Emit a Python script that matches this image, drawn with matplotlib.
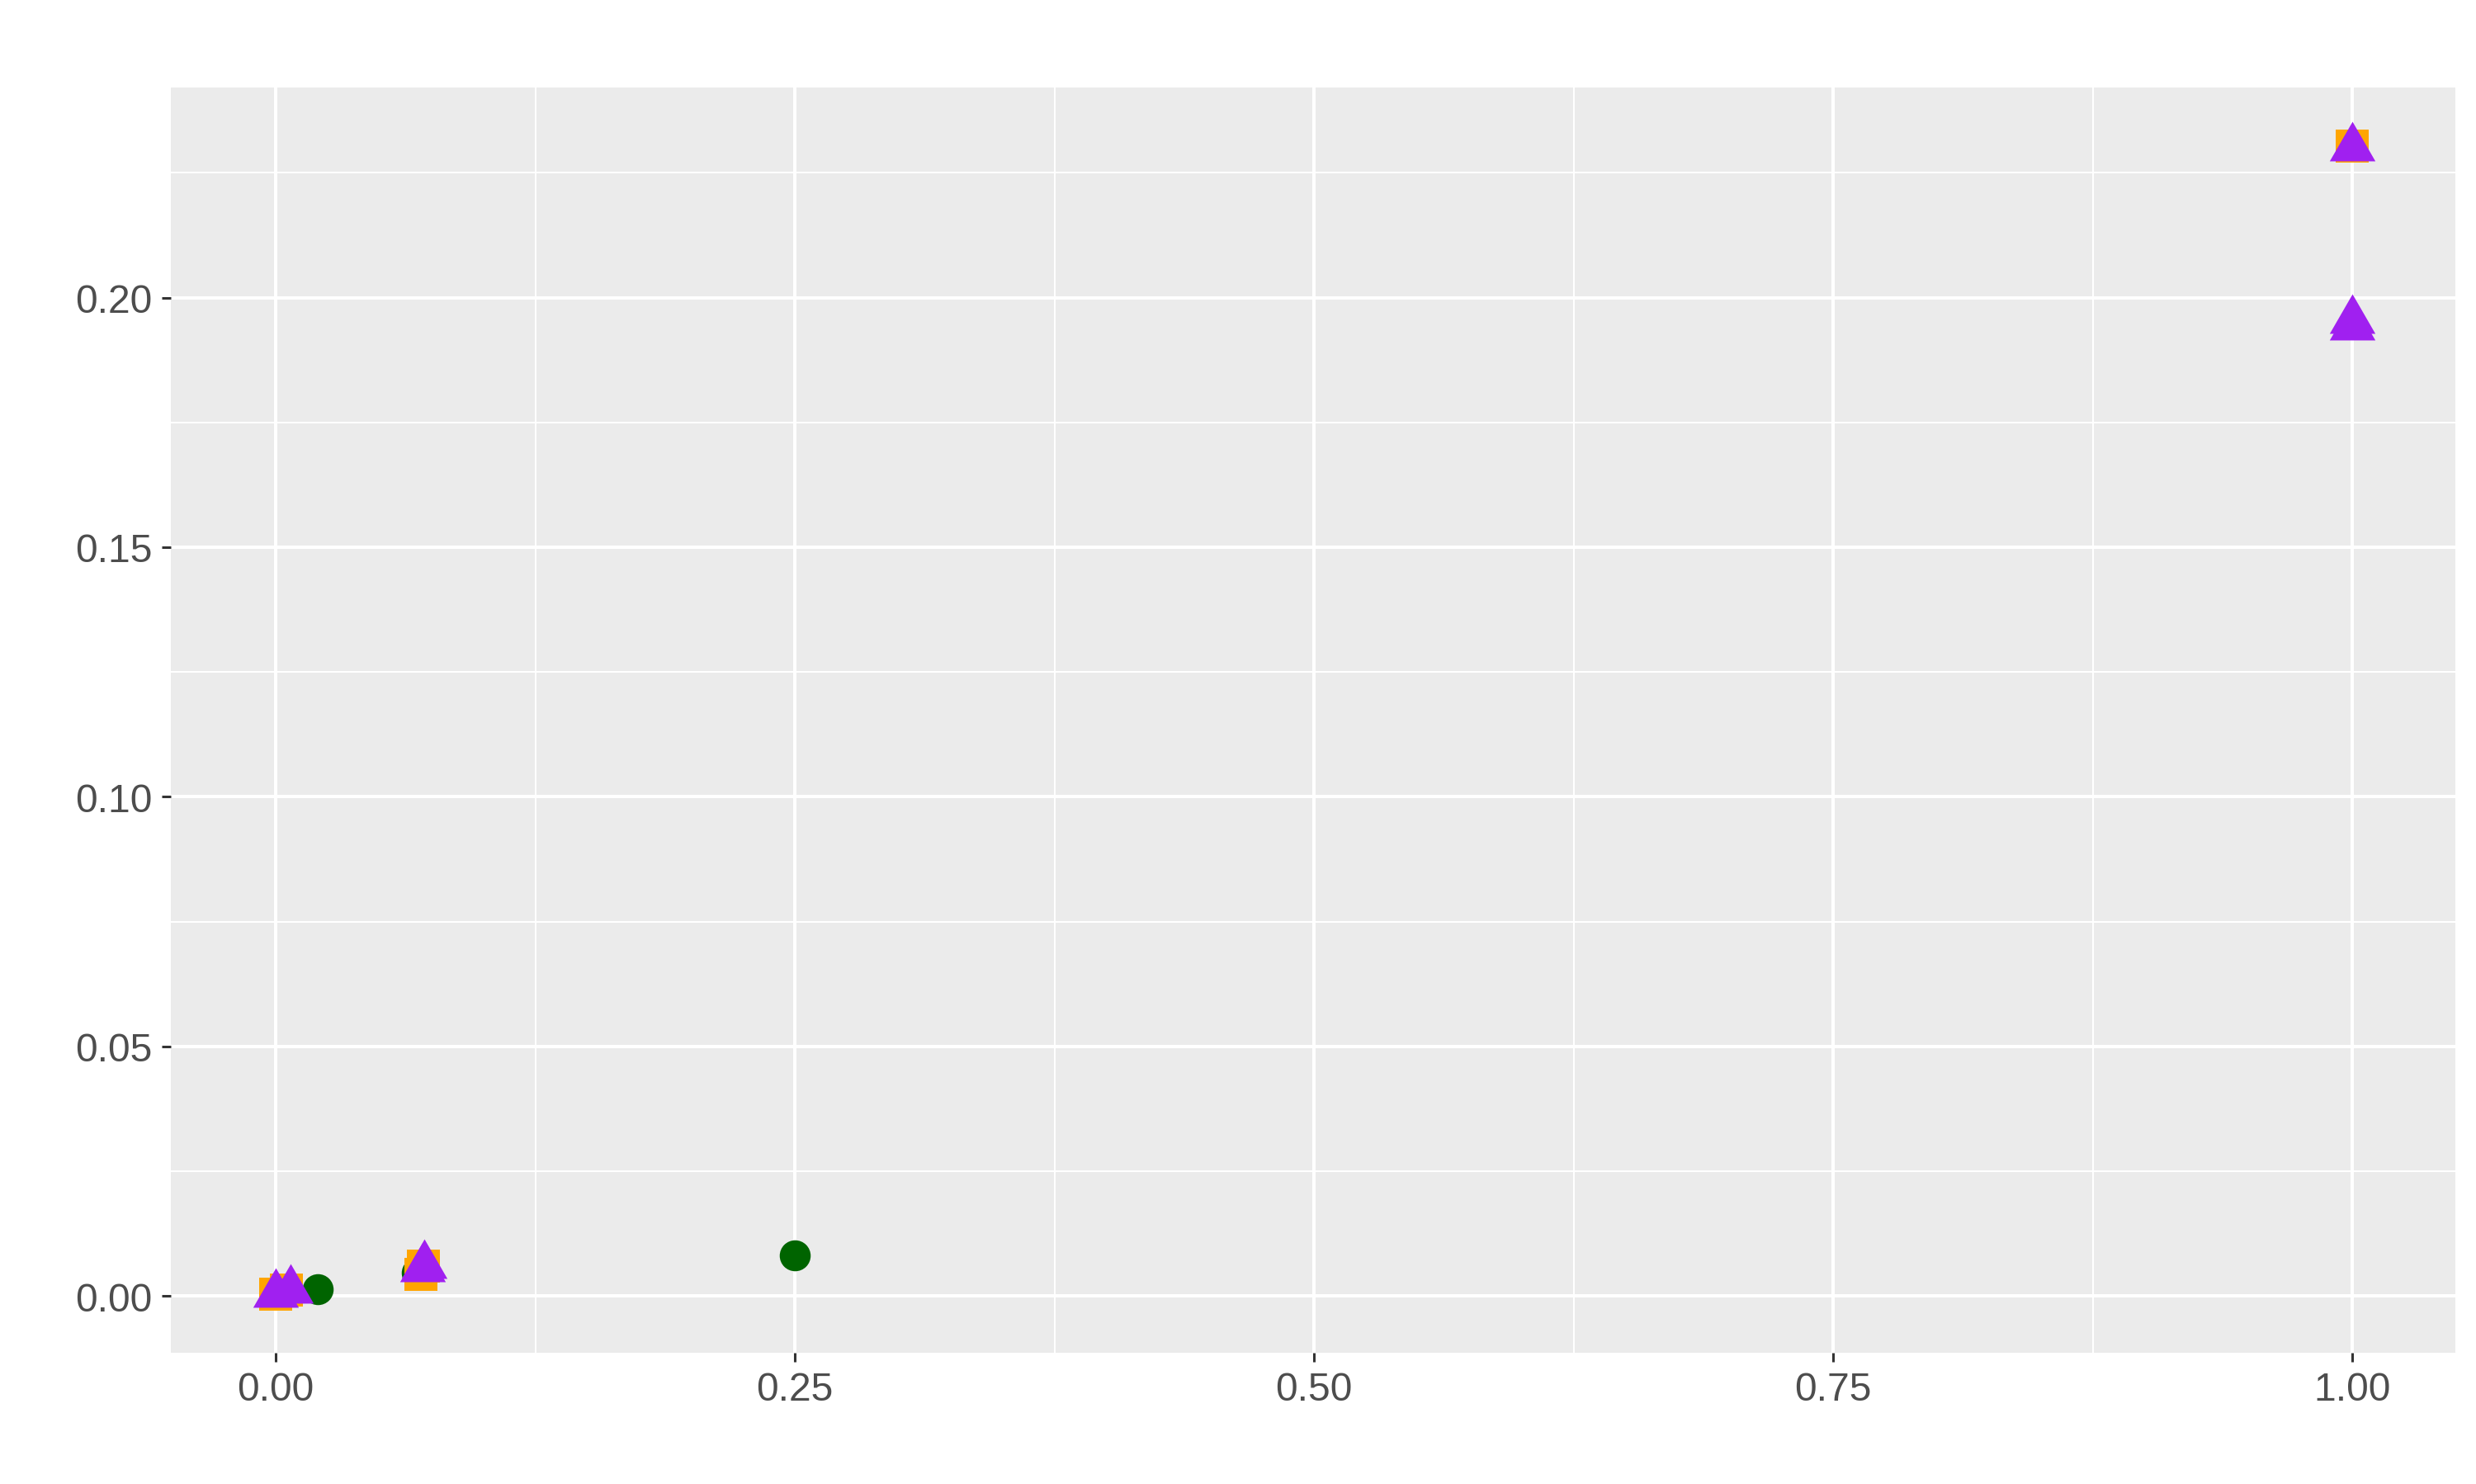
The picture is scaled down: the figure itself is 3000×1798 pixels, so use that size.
import matplotlib.pyplot as plt
from matplotlib.ticker import MultipleLocator

# green circles
green_x = [0.0, 0.0203, 0.068, 0.25]
green_y = [0.0005, 0.0013, 0.0046, 0.0081]

# orange squares
orange_x = [0.0, 0.005, 0.070, 0.071, 1.0]
orange_y = [0.0003, 0.0011, 0.0043, 0.0060, 0.2303]

# purple triangles
purple_x = [0.0, 0.007, 0.0707, 0.0716, 1.0, 1.0, 1.0]
purple_y = [0.0003, 0.0011, 0.0054, 0.0061, 0.2301, 0.1954, 0.1942]

x_ticks = [0.0, 0.25, 0.5, 0.75, 1.0]
y_ticks = [0.0, 0.05, 0.10, 0.15, 0.20]

plt.rcParams['font.family'] = ['Liberation Sans', 'DejaVu Sans']

fig = plt.figure(figsize=(15, 8.995), dpi=200)
ax = fig.add_axes([0.069, 0.0884, 0.9227, 0.8521])
ax.set_facecolor('#EBEBEB')
for s in ax.spines.values():
    s.set_visible(False)

tri = [(0, 1), (-0.866, -0.5), (0.866, -0.5)]
ax.plot(green_x, green_y, 'o', color='#006400', markersize=13.5, markeredgewidth=0, zorder=3)
ax.plot(orange_x, orange_y, 's', color='#FFA500', markersize=14.2, markeredgewidth=0, zorder=4)
ax.plot(purple_x, purple_y, linestyle='none', marker=tri, color='#A020F0',
        markersize=23, markeredgewidth=0, zorder=5)

ax.set_xlim(-0.0505, 1.0497)
ax.set_ylim(-0.0114, 0.2421)
ax.set_xticks(x_ticks)
ax.set_yticks(y_ticks)
ax.set_xticklabels(['0.00', '0.25', '0.50', '0.75', '1.00'])
ax.set_yticklabels(['0.00', '0.05', '0.10', '0.15', '0.20'])
ax.xaxis.set_minor_locator(MultipleLocator(0.125))
ax.yaxis.set_minor_locator(MultipleLocator(0.025))

ax.grid(True, which='major', color='white', linewidth=1.45)
ax.grid(True, which='minor', color='white', linewidth=0.72)
ax.set_axisbelow(True)
ax.tick_params(which='major', length=4, width=1.1, color='#333333',
               labelsize=17.3, labelcolor='#4D4D4D', pad=4)
ax.tick_params(which='minor', length=0)

fig.savefig('out.png', dpi=200, facecolor='white')
